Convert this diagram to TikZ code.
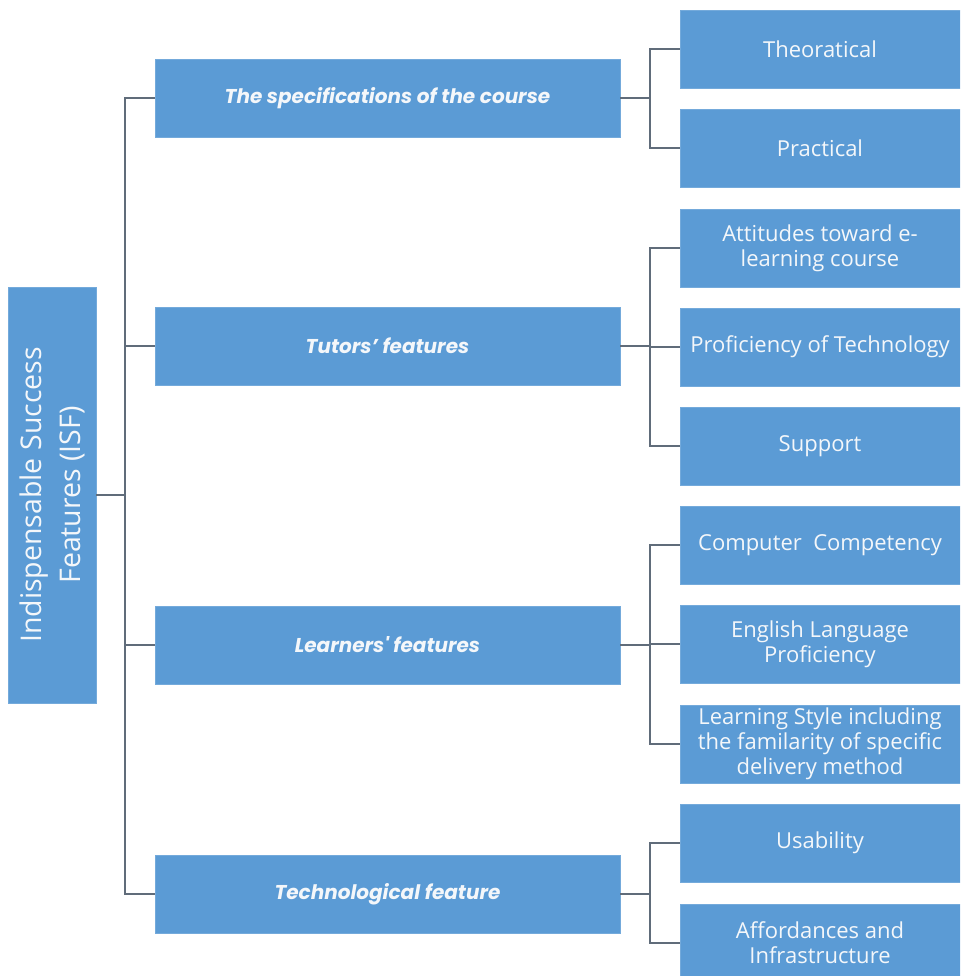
\documentclass[tikz,border=0pt]{standalone}
\usepackage{fontspec}
\setmainfont{Open Sans}
\newfontfamily\midfont{Poppins}
\usetikzlibrary{calc}

\definecolor{boxblue}{RGB}{91,155,213}
\definecolor{linegray}{RGB}{96,108,122}
\definecolor{boxtext}{RGB}{244,247,250}

\tikzset{
    box/.style={draw=boxblue!85!white, fill=boxblue, text=boxtext, inner sep=0pt, align=center},
    rootbox/.style={box, minimum width=416, minimum height=88, rotate=90,
        font=\fontsize{28.5}{39}\selectfont},
    featbox/.style={box, minimum width=465, minimum height=78,
        font=\midfont\bfseries\itshape\fontsize{20}{24}\selectfont},
    itembox/.style={box, minimum width=280, minimum height=78,
        font=\fontsize{22}{25}\selectfont},
    link/.style={draw=linegray, line width=1.4}
}

\begin{document}
\begin{tikzpicture}[x=1pt, y=-1pt]
    \useasboundingbox (0,0) rectangle (960,976);
    \clip (0,0) rectangle (960,976);

    \node (isf) at (52, 495) [rootbox] {Indispensable Success\\Features (ISF)};

    \node (spec) at (387.5, 98) [featbox] {The specifications of the course};
    \node (tut)  at (387.5, 346) [featbox] {Tutors’ features};
    \node (lrn)  at (387.5, 645) [featbox] {Learners' features};
    \node (tech) at (387.5, 894) [featbox] {Technological feature};

    \node (theo) at (820, 49) [itembox] {Theoratical};
    \node (prac) at (820, 148) [itembox] {Practical};
    \node (att)  at (820, 248) [itembox] {Attitudes toward e-\\learning course};
    \node (prof) at (820, 347) [itembox] {Proficiency of Technology};
    \node (supp) at (820, 446) [itembox] {Support};
    \node (comp) at (820, 545) [itembox] {Computer\ \ Competency};
    \node (engl) at (820, 644) [itembox] {English Language\\Proficiency};
    \node (lsty) at (820, 744) [itembox] {Learning Style including\\the familarity of specific\\delivery method};
    \node (usab) at (820, 843) [itembox] {Usability};
    \node (aff)  at (820, 943) [itembox] {Affordances and\\Infrastructure};

    % branch points
    \coordinate (trunk) at (125, 495);
    \coordinate (bspec) at (650, 98);
    \coordinate (btut)  at (650, 346);
    \coordinate (blrn)  at (650, 645);
    \coordinate (btech) at (650, 894);

    \draw[link] (isf) -- (trunk);
    \draw[link] (trunk) |- (spec);
    \draw[link] (trunk) |- (tut);
    \draw[link] (trunk) |- (lrn);
    \draw[link] (trunk) |- (tech);

    \draw[link] (spec) -- (bspec);
    \draw[link] (bspec) |- (theo);
    \draw[link] (bspec) |- (prac);

    \draw[link] (tut) -- (btut);
    \draw[link] (btut) |- (att);
    \draw[link] (btut) |- (prof);
    \draw[link] (btut) |- (supp);

    \draw[link] (lrn) -- (blrn);
    \draw[link] (blrn) |- (comp);
    \draw[link] (blrn) |- (engl);
    \draw[link] (blrn) |- (lsty);

    \draw[link] (tech) -- (btech);
    \draw[link] (btech) |- (usab);
    \draw[link] (btech) |- (aff);
\end{tikzpicture}
\end{document}
